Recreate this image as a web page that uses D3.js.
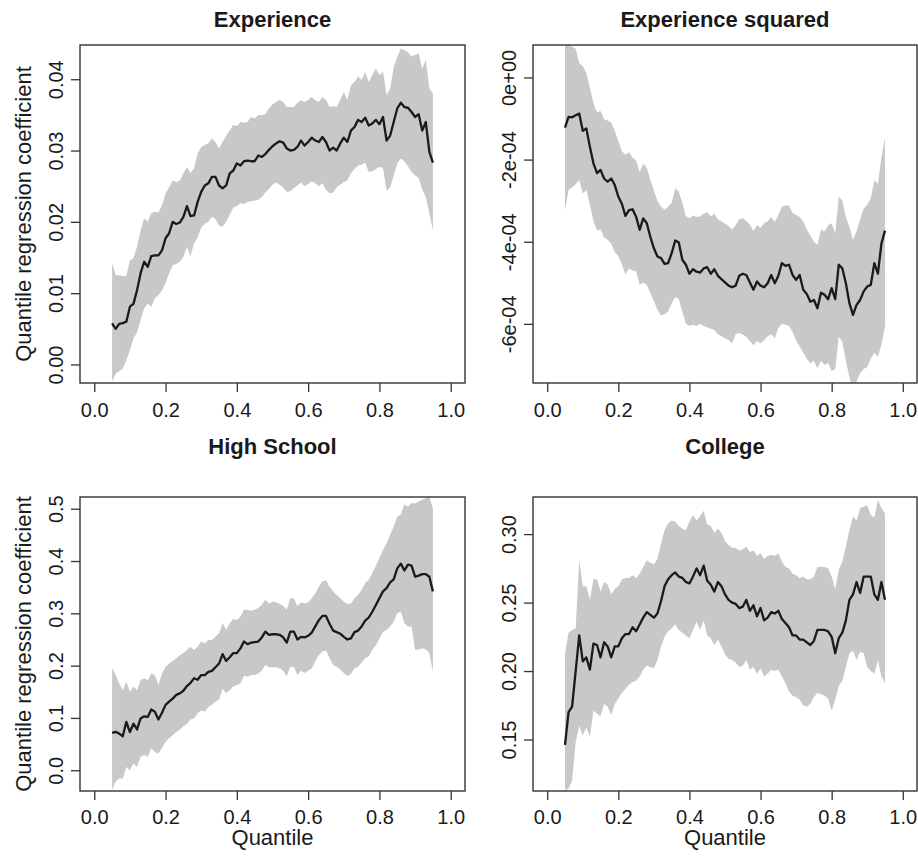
<!DOCTYPE html>
<html lang="en">
  <head>
    <meta charset="UTF-8" />
    <title>Quantile regression coefficients</title>
    <script src="https://d3js.org/d3.v7.min.js"></script>
    <style>
      body { margin: 0; background: #fff; }
      svg text { font-family: "Liberation Sans", Arial, Helvetica, sans-serif; fill: #1a1a1a; }
    </style>
  </head>
  <body>
    <svg id="chart"></svg>

    <script>
      let width = 918
      let height = 860

      // quantile grid (tau)
      let tau = [
        0.05,0.06,0.07,0.08,0.09,0.10,0.11,0.12,0.13,0.14,0.15,0.16,0.17,0.18,0.19,0.20,
        0.21,0.22,0.23,0.24,0.25,0.26,0.27,0.28,0.29,0.30,0.31,0.32,0.33,0.34,0.35,0.36,
        0.37,0.38,0.39,0.40,0.41,0.42,0.43,0.44,0.45,0.46,0.47,0.48,0.49,0.50,0.51,0.52,
        0.53,0.54,0.55,0.56,0.57,0.58,0.59,0.60,0.61,0.62,0.63,0.64,0.65,0.66,0.67,0.68,
        0.69,0.70,0.71,0.72,0.73,0.74,0.75,0.76,0.77,0.78,0.79,0.80,0.81,0.82,0.83,0.84,
        0.85,0.86,0.87,0.88,0.89,0.90,0.91,0.92,0.93,0.94,0.95
      ]

      let titles = ['Experience', 'Experience squared', 'High School', 'College']
      let xTicks = [0, 0.2, 0.4, 0.6, 0.8, 1.0]
      let xLimits = [0, 1]
      let yLimits = [
        [-0.0026, 0.0448],
        [-7.44e-4, 0.79e-4],
        [-0.0397, 0.5224],
        [0.1124, 0.3271]
      ]
      let yTicks = [
        [0, 0.01, 0.02, 0.03, 0.04],
        [-6e-4, -4e-4, -2e-4, 0],
        [0, 0.1, 0.2, 0.3, 0.4, 0.5],
        [0.15, 0.20, 0.25, 0.30]
      ]

      // Experience
      let expCoef = [
        0.00575,0.0050,0.0057,0.0058,0.0060,0.0081,0.0085,0.0104,0.0128,0.0144,
        0.0137,0.0152,0.0153,0.0153,0.0160,0.0177,0.0184,0.0200,0.0197,0.0199,
        0.0207,0.0222,0.0208,0.0209,0.0228,0.0242,0.0251,0.0254,0.0263,0.0263,
        0.0251,0.0247,0.0251,0.0268,0.0272,0.0282,0.0279,0.0285,0.0286,0.0285,
        0.0285,0.0293,0.0291,0.0295,0.0301,0.0306,0.0310,0.0313,0.0311,0.0303,
        0.0300,0.0301,0.0305,0.0314,0.0307,0.0312,0.0318,0.0314,0.0312,0.0319,
        0.0312,0.0300,0.0304,0.0300,0.0310,0.0318,0.0312,0.0328,0.0333,0.0343,
        0.0340,0.0346,0.0335,0.0338,0.0343,0.0337,0.0347,0.0314,0.0321,0.0340,
        0.0359,0.0367,0.0361,0.0360,0.0354,0.0347,0.0351,0.0328,0.0340,0.0298,
        0.0283
      ]
      let expHi = [
        0.0142,0.0125,0.0125,0.0124,0.0124,0.0146,0.0149,0.0165,0.0188,0.0205,
        0.0200,0.0212,0.0214,0.0213,0.0223,0.0240,0.0248,0.0258,0.0256,0.0258,
        0.0268,0.0277,0.0268,0.0275,0.0296,0.0305,0.0308,0.0310,0.0317,0.0312,
        0.0303,0.0312,0.0321,0.0328,0.0336,0.0334,0.0340,0.0339,0.0340,0.0347,
        0.0345,0.0350,0.0350,0.0351,0.0359,0.0365,0.0368,0.0371,0.0368,0.0361,
        0.0361,0.0361,0.0367,0.0371,0.0368,0.0371,0.0375,0.0371,0.0368,0.0375,
        0.0371,0.0361,0.0362,0.0361,0.0371,0.0382,0.0371,0.0392,0.0396,0.0404,
        0.0399,0.0410,0.0396,0.0406,0.0415,0.0406,0.0410,0.0378,0.0387,0.0417,
        0.0431,0.0443,0.0441,0.0438,0.0432,0.0434,0.0436,0.0415,0.0427,0.0387,
        0.0380
      ]
      let expLo = [
        -0.0024,-0.0013,-0.0009,-0.0006,0.0006,0.0020,0.0036,0.0045,0.0062,0.0079,
        0.0085,0.0081,0.0093,0.0097,0.0104,0.0114,0.0128,0.0139,0.0141,0.0144,
        0.0151,0.0165,0.0152,0.0170,0.0178,0.0192,0.0197,0.0200,0.0207,0.0204,
        0.0195,0.0193,0.0200,0.0210,0.0220,0.0222,0.0226,0.0225,0.0228,0.0229,
        0.0230,0.0231,0.0235,0.0241,0.0246,0.0252,0.0255,0.0252,0.0248,0.0242,
        0.0243,0.0247,0.0251,0.0255,0.0250,0.0253,0.0257,0.0254,0.0250,0.0254,
        0.0245,0.0240,0.0241,0.0248,0.0252,0.0256,0.0258,0.0268,0.0274,0.0279,
        0.0280,0.0283,0.0270,0.0271,0.0274,0.0277,0.0276,0.0244,0.0248,0.0265,
        0.0282,0.0289,0.0285,0.0278,0.0270,0.0265,0.0262,0.0245,0.0235,0.0212,
        0.0188
      ]

      // Experience squared
      let exp2Coef = [
        -1.22e-4,-0.96e-4,-0.97e-4,-0.92e-4,-0.88e-4,-1.30e-4,-1.24e-4,-1.69e-4,-2.09e-4,-2.33e-4,
        -2.25e-4,-2.46e-4,-2.54e-4,-2.46e-4,-2.62e-4,-2.90e-4,-3.08e-4,-3.37e-4,-3.23e-4,-3.21e-4,
        -3.39e-4,-3.71e-4,-3.43e-4,-3.55e-4,-3.88e-4,-4.16e-4,-4.36e-4,-4.40e-4,-4.54e-4,-4.52e-4,
        -4.28e-4,-3.97e-4,-4.02e-4,-4.44e-4,-4.56e-4,-4.78e-4,-4.67e-4,-4.73e-4,-4.75e-4,-4.65e-4,
        -4.62e-4,-4.78e-4,-4.67e-4,-4.83e-4,-4.91e-4,-4.99e-4,-5.07e-4,-5.11e-4,-5.07e-4,-4.83e-4,
        -4.78e-4,-4.81e-4,-4.99e-4,-5.17e-4,-4.97e-4,-5.07e-4,-5.11e-4,-5.01e-4,-4.81e-4,-5.01e-4,
        -4.83e-4,-4.52e-4,-4.59e-4,-4.56e-4,-4.81e-4,-4.93e-4,-4.81e-4,-5.17e-4,-5.27e-4,-5.46e-4,
        -5.42e-4,-5.62e-4,-5.24e-4,-5.29e-4,-5.40e-4,-5.13e-4,-5.40e-4,-4.56e-4,-4.65e-4,-5.01e-4,
        -5.50e-4,-5.78e-4,-5.54e-4,-5.42e-4,-5.21e-4,-5.09e-4,-5.05e-4,-4.52e-4,-4.78e-4,-4.04e-4,
        -3.73e-4
      ]
      let exp2Hi = [
        1.20e-4,0.80e-4,0.75e-4,0.70e-4,0.35e-4,0.28e-4,0.10e-4,-0.25e-4,-0.62e-4,-0.85e-4,
        -0.82e-4,-1.02e-4,-1.05e-4,-1.10e-4,-1.30e-4,-1.55e-4,-1.80e-4,-1.88e-4,-1.82e-4,-1.95e-4,
        -2.02e-4,-2.30e-4,-2.10e-4,-2.20e-4,-2.50e-4,-2.75e-4,-3.00e-4,-3.15e-4,-3.22e-4,-3.15e-4,
        -3.05e-4,-2.70e-4,-2.78e-4,-3.05e-4,-3.38e-4,-3.43e-4,-3.36e-4,-3.40e-4,-3.38e-4,-3.32e-4,
        -3.28e-4,-3.38e-4,-3.32e-4,-3.45e-4,-3.50e-4,-3.56e-4,-3.62e-4,-3.70e-4,-3.60e-4,-3.45e-4,
        -3.43e-4,-3.50e-4,-3.58e-4,-3.74e-4,-3.60e-4,-3.66e-4,-3.55e-4,-3.50e-4,-3.40e-4,-3.52e-4,
        -3.35e-4,-3.15e-4,-3.12e-4,-3.12e-4,-3.30e-4,-3.35e-4,-3.40e-4,-3.50e-4,-3.70e-4,-3.85e-4,
        -4.00e-4,-4.08e-4,-3.70e-4,-3.75e-4,-3.60e-4,-3.55e-4,-3.80e-4,-2.90e-4,-3.00e-4,-3.40e-4,
        -3.65e-4,-3.95e-4,-3.75e-4,-3.45e-4,-3.20e-4,-3.10e-4,-2.95e-4,-2.50e-4,-2.60e-4,-1.95e-4,
        -1.48e-4
      ]
      let exp2Lo = [
        -3.23e-4,-2.74e-4,-2.68e-4,-2.60e-4,-2.50e-4,-2.82e-4,-2.74e-4,-3.10e-4,-3.50e-4,-3.72e-4,
        -3.70e-4,-3.90e-4,-3.95e-4,-4.05e-4,-4.25e-4,-4.35e-4,-4.55e-4,-4.80e-4,-4.65e-4,-4.70e-4,
        -4.72e-4,-5.05e-4,-5.00e-4,-5.05e-4,-5.25e-4,-5.45e-4,-5.65e-4,-5.80e-4,-5.76e-4,-5.70e-4,
        -5.50e-4,-5.35e-4,-5.40e-4,-5.70e-4,-6.00e-4,-6.05e-4,-6.02e-4,-6.05e-4,-6.00e-4,-6.05e-4,
        -6.08e-4,-6.12e-4,-6.15e-4,-6.25e-4,-6.30e-4,-6.35e-4,-6.40e-4,-6.47e-4,-6.25e-4,-6.22e-4,
        -6.26e-4,-6.32e-4,-6.42e-4,-6.52e-4,-6.42e-4,-6.47e-4,-6.40e-4,-6.30e-4,-6.25e-4,-6.35e-4,
        -6.10e-4,-6.00e-4,-6.02e-4,-6.05e-4,-6.20e-4,-6.40e-4,-6.55e-4,-6.70e-4,-6.85e-4,-6.96e-4,
        -6.90e-4,-7.08e-4,-6.90e-4,-7.00e-4,-6.95e-4,-7.15e-4,-7.10e-4,-6.31e-4,-6.45e-4,-6.90e-4,
        -7.30e-4,-7.65e-4,-7.40e-4,-7.20e-4,-7.10e-4,-7.05e-4,-6.85e-4,-6.70e-4,-6.80e-4,-6.50e-4,
        -6.06e-4
      ]

      // High School
      let hsCoef = [
        0.0715,0.0734,0.070,0.065,0.0926,0.073,0.089,0.078,0.099,0.103,
        0.102,0.116,0.112,0.097,0.110,0.125,0.131,0.137,0.144,0.147,
        0.152,0.161,0.167,0.176,0.173,0.182,0.182,0.188,0.190,0.197,
        0.204,0.222,0.209,0.216,0.224,0.224,0.233,0.246,0.241,0.244,
        0.245,0.246,0.254,0.265,0.259,0.260,0.260,0.259,0.254,0.244,
        0.265,0.265,0.250,0.255,0.254,0.257,0.263,0.275,0.287,0.295,
        0.295,0.280,0.267,0.264,0.261,0.255,0.250,0.252,0.264,0.267,
        0.275,0.286,0.292,0.303,0.316,0.329,0.342,0.348,0.359,0.365,
        0.386,0.395,0.382,0.393,0.391,0.370,0.372,0.375,0.375,0.370,
        0.342
      ]
      let hsHi = [
        0.195,0.182,0.166,0.153,0.169,0.150,0.160,0.153,0.172,0.176,
        0.172,0.185,0.182,0.163,0.185,0.198,0.204,0.209,0.214,0.220,
        0.224,0.230,0.236,0.230,0.236,0.246,0.243,0.249,0.249,0.255,
        0.262,0.281,0.268,0.281,0.289,0.287,0.294,0.307,0.307,0.305,
        0.307,0.310,0.316,0.326,0.319,0.322,0.321,0.318,0.314,0.307,
        0.329,0.329,0.314,0.321,0.319,0.321,0.329,0.338,0.351,0.361,
        0.363,0.351,0.342,0.335,0.329,0.322,0.318,0.319,0.329,0.335,
        0.345,0.358,0.364,0.377,0.391,0.406,0.421,0.434,0.450,0.466,
        0.485,0.489,0.508,0.504,0.511,0.510,0.514,0.517,0.520,0.522,
        0.501
      ]
      let hsLo = [
        -0.038,-0.022,-0.016,-0.016,0.006,0.000,0.013,0.006,0.026,0.029,
        0.026,0.042,0.035,0.032,0.042,0.054,0.061,0.067,0.073,0.078,
        0.084,0.089,0.097,0.099,0.109,0.114,0.112,0.121,0.125,0.131,
        0.135,0.156,0.147,0.153,0.160,0.163,0.166,0.180,0.179,0.182,
        0.182,0.185,0.190,0.201,0.197,0.197,0.197,0.195,0.190,0.179,
        0.198,0.197,0.182,0.190,0.186,0.190,0.195,0.208,0.220,0.227,
        0.229,0.214,0.201,0.198,0.193,0.186,0.180,0.184,0.195,0.198,
        0.206,0.214,0.218,0.230,0.239,0.252,0.265,0.268,0.275,0.284,
        0.300,0.303,0.281,0.275,0.275,0.230,0.231,0.233,0.231,0.224,
        0.188
      ]

      // College
      let colCoef = [
        0.146,0.170,0.174,0.200,0.226,0.207,0.210,0.201,0.220,0.219,
        0.210,0.221,0.218,0.210,0.218,0.218,0.224,0.227,0.227,0.232,
        0.229,0.234,0.239,0.243,0.241,0.239,0.242,0.251,0.262,0.267,
        0.270,0.272,0.269,0.268,0.265,0.264,0.269,0.275,0.270,0.277,
        0.266,0.263,0.258,0.265,0.262,0.256,0.252,0.250,0.249,0.246,
        0.247,0.252,0.244,0.248,0.240,0.246,0.237,0.239,0.243,0.242,
        0.244,0.238,0.235,0.232,0.226,0.226,0.223,0.223,0.221,0.219,
        0.222,0.230,0.230,0.230,0.229,0.225,0.213,0.224,0.228,0.237,
        0.252,0.256,0.265,0.257,0.269,0.269,0.269,0.256,0.252,0.265,
        0.252
      ]
      let colHi = [
        0.213,0.228,0.230,0.231,0.281,0.262,0.262,0.252,0.267,0.267,
        0.258,0.265,0.263,0.256,0.260,0.262,0.267,0.268,0.268,0.270,
        0.268,0.271,0.276,0.281,0.279,0.278,0.282,0.293,0.303,0.308,
        0.310,0.309,0.306,0.304,0.303,0.309,0.314,0.310,0.313,0.317,
        0.307,0.306,0.301,0.304,0.301,0.295,0.292,0.290,0.290,0.288,
        0.289,0.291,0.287,0.288,0.284,0.286,0.282,0.284,0.285,0.284,
        0.286,0.280,0.276,0.275,0.271,0.270,0.268,0.269,0.267,0.267,
        0.269,0.276,0.276,0.276,0.275,0.269,0.260,0.274,0.280,0.291,
        0.303,0.313,0.310,0.319,0.320,0.321,0.314,0.312,0.325,0.319,
        0.315
      ]
      let colLo = [
        0.113,0.114,0.120,0.148,0.160,0.153,0.159,0.152,0.171,0.169,
        0.167,0.176,0.174,0.168,0.176,0.180,0.184,0.187,0.190,0.192,
        0.193,0.196,0.201,0.204,0.203,0.202,0.208,0.218,0.225,0.229,
        0.231,0.234,0.230,0.228,0.226,0.224,0.230,0.236,0.230,0.237,
        0.226,0.224,0.219,0.223,0.218,0.212,0.209,0.208,0.206,0.203,
        0.204,0.208,0.201,0.203,0.198,0.202,0.196,0.198,0.201,0.200,
        0.201,0.196,0.191,0.185,0.182,0.181,0.179,0.175,0.174,0.176,
        0.181,0.184,0.183,0.182,0.180,0.171,0.179,0.189,0.193,0.203,
        0.213,0.215,0.208,0.214,0.213,0.203,0.200,0.198,0.208,0.196,
        0.191
      ]

      let coefSeries = [expCoef, exp2Coef, hsCoef, colCoef]
      let loSeries = [expLo, exp2Lo, hsLo, colLo]
      let hiSeries = [expHi, exp2Hi, hsHi, colHi]

      // R style "0e+00", "-2e-04"
      function sciLabel(v) {
        if (v === 0) return '0e+00'
        let e = Math.floor(Math.log10(Math.abs(v)) + 1e-9)
        let m = Math.round(v / Math.pow(10, e))
        let sign = e < 0 ? '-' : '+'
        return m + 'e' + sign + String(Math.abs(e)).padStart(2, '0')
      }
      let yFormats = [d3.format('.2f'), sciLabel, d3.format('.1f'), d3.format('.2f')]

      // plot regions
      let boxes = [
        { x0: 80, x1: 465, y0: 45, y1: 383 },
        { x0: 533, x1: 917, y0: 45, y1: 383 },
        { x0: 80, x1: 465, y0: 497, y1: 791 },
        { x0: 533, x1: 917, y0: 497, y1: 791 }
      ]

      let svg = d3.select('#chart')
        .attr('width', width)
        .attr('height', height)

      svg.append('rect').attr('width', width).attr('height', height).attr('fill', '#fff')

      titles.forEach((title, i) => {
        let b = boxes[i]
        let pad = (xLimits[1] - xLimits[0]) * 0.04
        let x = d3.scaleLinear()
          .domain([xLimits[0] - pad, xLimits[1] + pad])
          .range([b.x0, b.x1])
        let y = d3.scaleLinear()
          .domain(yLimits[i])
          .range([b.y1, b.y0])

        let rows = tau.map((t, k) => ({
          t: t, coef: coefSeries[i][k], lo: loSeries[i][k], hi: hiSeries[i][k]
        }))

        let g = svg.append('g')

        g.append('clipPath')
          .attr('id', 'clip' + i)
          .append('rect')
          .attr('x', b.x0).attr('y', b.y0)
          .attr('width', b.x1 - b.x0).attr('height', b.y1 - b.y0)

        let area = d3.area()
          .x(d => x(d.t))
          .y0(d => y(d.lo))
          .y1(d => y(d.hi))

        let line = d3.line()
          .x(d => x(d.t))
          .y(d => y(d.coef))

        g.append('path')
          .datum(rows)
          .attr('clip-path', `url(#clip${i})`)
          .attr('d', area)
          .attr('fill', '#c7c8ca')

        g.append('path')
          .datum(rows)
          .attr('clip-path', `url(#clip${i})`)
          .attr('d', line)
          .attr('fill', 'none')
          .attr('stroke', '#1a1a1a')
          .attr('stroke-width', 2.3)
          .attr('stroke-linejoin', 'round')

        // box
        g.append('rect')
          .attr('x', b.x0).attr('y', b.y0)
          .attr('width', b.x1 - b.x0).attr('height', b.y1 - b.y0)
          .attr('fill', 'none')
          .attr('stroke', '#333')
          .attr('stroke-width', 1.4)

        // x axis
        let xAxis = g.append('g')
          .attr('transform', `translate(0,${b.y1})`)
          .call(d3.axisBottom(x).tickValues(xTicks).tickSize(9).tickSizeOuter(0).tickFormat(d3.format('.1f')))
        xAxis.select('.domain').remove()
        xAxis.selectAll('line').attr('stroke', '#333').attr('stroke-width', 1.3)
        xAxis.selectAll('text')
          .attr('y', i < 2 ? 34 : 33)
          .attr('dy', 0)
          .attr('fill', '#1a1a1a')
          .style('font-size', '20px')

        // y axis, labels turned like R's las = 0
        let yAxis = g.append('g')
          .attr('transform', `translate(${b.x0},0)`)
          .call(d3.axisLeft(y).tickValues(yTicks[i]).tickSize(9).tickSizeOuter(0).tickFormat(yFormats[i]))
        yAxis.select('.domain').remove()
        yAxis.selectAll('line').attr('stroke', '#333').attr('stroke-width', 1.3)
        yAxis.selectAll('text')
          .attr('x', 0)
          .attr('dy', 0)
          .attr('text-anchor', 'middle')
          .attr('transform', 'translate(-17,0) rotate(-90)')
          .attr('fill', '#1a1a1a')
          .style('font-size', '20px')

        // title
        g.append('text')
          .attr('x', (b.x0 + b.x1) / 2)
          .attr('y', i < 2 ? 27 : 454)
          .attr('text-anchor', 'middle')
          .style('font-size', '22px')
          .style('font-weight', 'bold')
          .text(title)

        if (i >= 2) {
          g.append('text')
            .attr('x', (b.x0 + b.x1) / 2)
            .attr('y', 845)
            .attr('text-anchor', 'middle')
            .style('font-size', '22px')
            .text('Quantile')
        }

        if (i % 2 === 0) {
          let cy = (b.y0 + b.y1) / 2
          g.append('text')
            .attr('transform', `translate(31,${cy}) rotate(-90)`)
            .attr('text-anchor', 'middle')
            .style('font-size', '22px')
            .text('Quantile regression coefficient')
        }
      })
    </script>
  </body>
</html>
